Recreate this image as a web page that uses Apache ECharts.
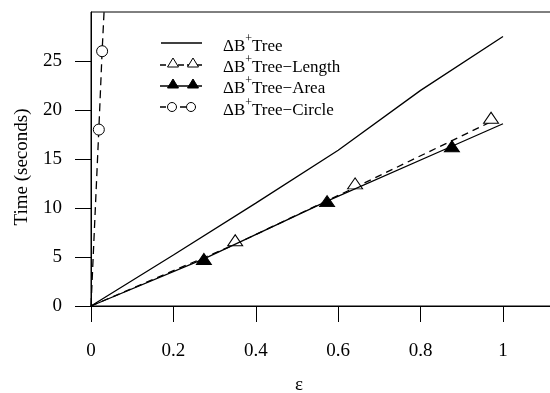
<!DOCTYPE html>
<html>
<head>
<meta charset="utf-8">
<script src="https://cdn.jsdelivr.net/npm/echarts@6/dist/echarts.min.js"></script>
<style>
  html, body { margin: 0; padding: 0; background: #fff; }
  #chart { width: 550px; height: 393px; }
</style>
</head>
<body>
<div id="chart"></div>
<script>
// ---- data ----
const xTickValues = [0, 0.2, 0.4, 0.6, 0.8, 1];
const yTickValues = [0, 5, 10, 15, 20, 25];
const seriesNames = ['ΔB+Tree', 'ΔB+Tree−Length', 'ΔB+Tree−Area', 'ΔB+Tree−Circle'];

const treeX = [0, 0.2, 0.4, 0.6, 0.8, 1.0];
const treeY = [0, 5.2, 10.5, 15.9, 22.0, 27.5];

const lengthX = [0, 0.35, 0.641, 0.971];
const lengthY = [0, 6.3, 12.1, 18.8];
const lengthMarked = [false, true, true, true];

const areaX = [0, 0.274, 0.573, 0.876, 1.0];
const areaY = [0, 4.8, 10.7, 16.3, 18.6];
const areaMarked = [false, true, true, true, false];

const circleX = [0, 0.019, 0.027, 0.034];
const circleY = [0, 18.0, 26.0, 32.0];
const circleMarked = [false, true, true, false];

// ---- helpers ----
const FONT = '"Liberation Serif", "DejaVu Serif", "Times New Roman", serif';
function pts(xs, ys, marked) {
  return xs.map((x, i) => {
    const item = { value: [x, ys[i]] };
    if (marked && !marked[i]) item.symbol = 'none';
    return item;
  });
}
function legendLabel(name) {
  const rest = name.slice(3);
  return '{n|ΔB}{s|+}{n|' + rest + '}';
}

const chart = echarts.init(document.getElementById('chart'), null, { renderer: 'canvas' });

const legendRows = [
  { y: 43, type: 'solid' },
  { y: 64, type: 'openTri' },
  { y: 85, type: 'fillTri' },
  { y: 107, type: 'circle' }
];
const graphics = [];
legendRows.forEach((row, i) => {
  if (row.type === 'solid') {
    graphics.push({ type: 'line', shape: { x1: 161, y1: row.y, x2: 202, y2: row.y }, style: { stroke: '#000', lineWidth: 1.3 } });
  } else if (row.type === 'openTri' || row.type === 'fillTri') {
    graphics.push({ type: 'line', shape: { x1: 160, y1: row.y + 1, x2: 202, y2: row.y + 1 }, style: { stroke: '#000', lineWidth: 1.3, lineDash: row.type === 'openTri' ? [6, 3] : null } });
    [173, 193].forEach(cx => {
      const cy = row.y - 1;
      graphics.push({ type: 'polygon', shape: { points: [[cx, cy - 5], [cx - 5.5, cy + 4], [cx + 5.5, cy + 4]] }, style: { fill: row.type === 'openTri' ? '#fff' : '#000', stroke: '#000', lineWidth: 1 }, z: 101 });
    });
  } else {
    graphics.push({ type: 'line', shape: { x1: 160, y1: row.y, x2: 197, y2: row.y }, style: { stroke: '#000', lineWidth: 1.3, lineDash: [6, 4] } });
    [172, 191].forEach(cx => {
      graphics.push({ type: 'circle', shape: { cx: cx, cy: row.y, r: 4.5 }, style: { fill: '#fff', stroke: '#000', lineWidth: 1 }, z: 101 });
    });
  }
  graphics.push({
    type: 'text', left: 223, top: row.y - 10, z: 101,
    style: {
      text: legendLabel(seriesNames[i]),
      fill: '#000',
      font: '17px ' + FONT,
      rich: {
        n: { fontSize: 17, fontFamily: FONT, lineHeight: 22, fill: '#000', verticalAlign: 'bottom' },
        s: { fontSize: 12, fontFamily: FONT, lineHeight: 14, fill: '#000', verticalAlign: 'top' }
      }
    }
  });
});

const option = {
  animation: false,
  backgroundColor: '#fff',
  textStyle: { fontFamily: FONT },
  grid: { left: 91, top: 12, right: -3, bottom: 87, show: true, borderColor: '#000', borderWidth: 1,
    containLabel: false, outerBoundsMode: 'none' },
  xAxis: {
    type: 'value', min: 0, max: 462 / 412, interval: 0.2,
    name: 'ε', nameLocation: 'middle', nameGap: 70,
    nameTextStyle: { fontFamily: FONT, fontSize: 19, color: '#000', padding: [0, 46, 0, 0] },
    axisLine: { show: true, lineStyle: { color: '#000', width: 1 } },
    axisTick: { show: true, inside: false, length: 16, lineStyle: { color: '#000', width: 1 } },
    axisLabel: { showMaxLabel: false, margin: 36, fontFamily: FONT, fontSize: 19, color: '#000',
      formatter: v => (xTickValues.indexOf(Math.round(v * 10) / 10) >= 0 ? String(Math.round(v * 10) / 10) : '') },
    splitLine: { show: false }
  },
  yAxis: {
    type: 'value', min: 0, max: 30,
    name: 'Time (seconds)', nameLocation: 'middle', nameGap: 59,
    nameTextStyle: { fontFamily: FONT, fontSize: 19, color: '#000', padding: [0, 16, 0, 0] },
    axisLine: { show: true, lineStyle: { color: '#000', width: 1 } },
    axisTick: { show: true, length: 16, customValues: yTickValues, lineStyle: { color: '#000', width: 1 } },
    axisLabel: { customValues: yTickValues, margin: 29, fontFamily: FONT, fontSize: 19, color: '#000' },
    splitLine: { show: false }
  },
  series: [
    {
      name: seriesNames[0], type: 'line', data: pts(treeX, treeY), symbol: 'none',
      lineStyle: { color: '#000', width: 1.3 }, z: 2
    },
    {
      name: seriesNames[1], type: 'line', data: pts(lengthX, lengthY, lengthMarked),
      symbol: 'triangle', symbolSize: [15, 11], symbolOffset: [0, -4], showAllSymbol: true,
      itemStyle: { color: '#fff', borderColor: '#000', borderWidth: 1 },
      lineStyle: { color: '#000', width: 1.3, type: [7, 5] }, z: 3
    },
    {
      name: seriesNames[2], type: 'line', data: pts(areaX, areaY, areaMarked),
      symbol: 'triangle', symbolSize: [15, 11], showAllSymbol: true,
      itemStyle: { color: '#000', borderColor: '#000', borderWidth: 1 },
      lineStyle: { color: '#000', width: 1.3 }, z: 4
    },
    {
      name: seriesNames[3], type: 'line', data: pts(circleX, circleY, circleMarked),
      symbol: 'circle', symbolSize: 11, showAllSymbol: true,
      itemStyle: { color: '#fff', borderColor: '#000', borderWidth: 1 },
      lineStyle: { color: '#000', width: 1.3, type: [8, 5] }, z: 5
    }
  ],
  graphic: graphics
};
chart.setOption(option);
</script>
</body>
</html>
